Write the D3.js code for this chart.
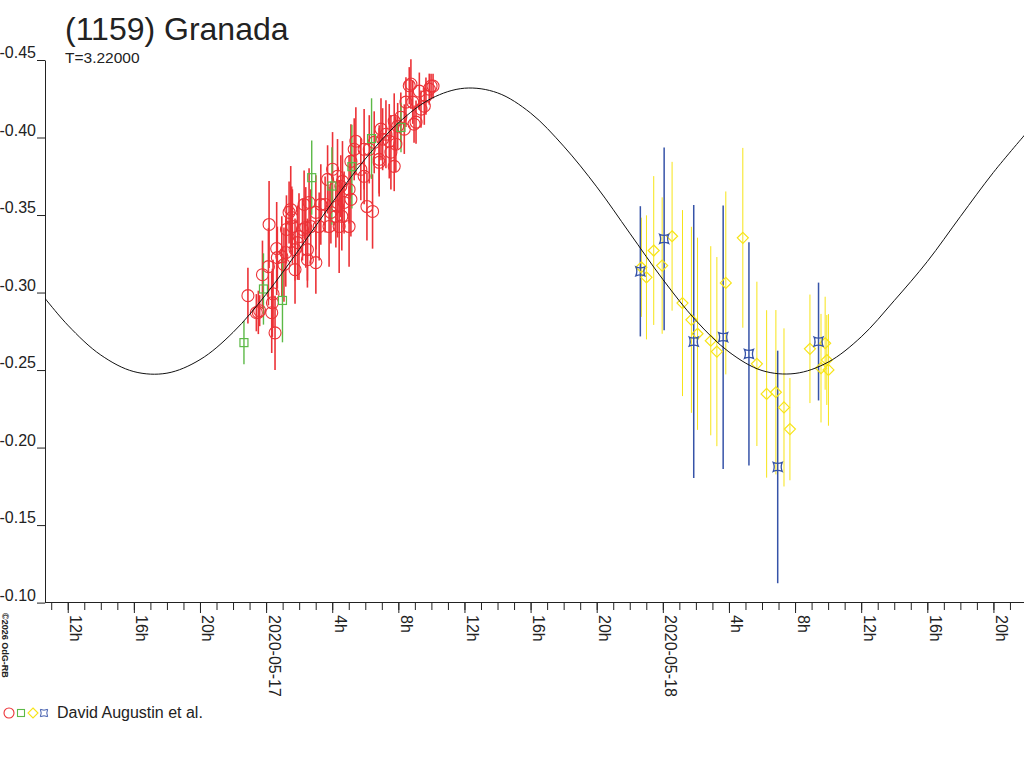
<!DOCTYPE html>
<html><head><meta charset="utf-8">
<script src="https://cdn.jsdelivr.net/npm/d3@7"></script>
<style>
body{margin:0;background:#fff}
text{font-family:"Liberation Sans",Arial,sans-serif;fill:#222}
</style>
</head><body><script>
var w=1024,h=768;

// all times: hours from 2020-05-17 00:00 UT
var redHours=[-1.10,-0.59,-0.47,-0.39,-0.22,0.14,0.18,0.34,0.38,0.54,
  0.64,0.68,0.42,0.95,1.23,1.39,1.49,1.59,1.55,1.08,
  1.19,1.75,1.75,1.90,1.99,2.20,2.30,2.50,2.50,2.40,
  2.70,2.60,3.01,3.01,3.21,3.31,3.57,3.72,3.81,3.92,
  4.02,4.32,4.42,4.58,4.72,4.62,8.76,8.66,9.27,9.98,
  9.87,9.67,8.46,8.87,9.57,9.07,8.36,7.75,7.96,6.95,
  7.25,7.45,7.05,7.85,7.55,6.84,7.75,6.54,6.24,5.93,
  5.43,5.33,5.13,5.73,5.93,6.84,4.52,5.02,5.13,4.32,
  5.02,6.10,6.44,4.22,10.10,9.37,8.15,8.95];
var redMags=[-0.2980,-0.2870,-0.2872,-0.2883,-0.3115,-0.3167,-0.3439,-0.2870,-0.2934,-0.2740,
  -0.3284,-0.3225,-0.2992,-0.3232,-0.3407,-0.3517,-0.3536,-0.3426,-0.3484,-0.3180,
  -0.3258,-0.3277,-0.3148,-0.3322,-0.3361,-0.3407,-0.3568,-0.3277,-0.3212,-0.3420,
  -0.3426,-0.3581,-0.3193,-0.3517,-0.3426,-0.3568,-0.3568,-0.3730,-0.3426,-0.3517,
  -0.3795,-0.3750,-0.3426,-0.3491,-0.3581,-0.3717,-0.4345,-0.4334,-0.4299,-0.4332,
  -0.4312,-0.4267,-0.4228,-0.4228,-0.4202,-0.4099,-0.4054,-0.4105,-0.4073,-0.4054,
  -0.4021,-0.3976,-0.3989,-0.3957,-0.3905,-0.3859,-0.3814,-0.3969,-0.3924,-0.3924,
  -0.3976,-0.3924,-0.3846,-0.3795,-0.3750,-0.3840,-0.3685,-0.3665,-0.3601,-0.3555,
  -0.3426,-0.3555,-0.3523,-0.3491,-0.4332,-0.4183,-0.4131,-0.4086];
var redErrs=[0.018,0.012,0.014,0.010,0.022,0.025,0.028,0.026,0.022,0.024,
  0.030,0.020,0.022,0.026,0.022,0.020,0.028,0.024,0.020,0.024,
  0.022,0.020,0.022,0.024,0.028,0.020,0.022,0.020,0.018,0.026,
  0.024,0.022,0.020,0.024,0.022,0.026,0.018,0.022,0.026,0.020,
  0.024,0.024,0.030,0.022,0.020,0.026,0.016,0.012,0.012,0.008,
  0.010,0.012,0.016,0.014,0.012,0.014,0.016,0.018,0.015,0.020,
  0.022,0.024,0.020,0.018,0.024,0.022,0.016,0.020,0.022,0.026,
  0.022,0.020,0.024,0.020,0.018,0.022,0.020,0.022,0.024,0.020,
  0.026,0.022,0.024,0.020,0.008,0.012,0.016,0.012];

var greenHours=[-1.34,-0.16,0.99,2.76,3.98,5.19,6.38,8.16];
var greenMags=[-0.2677,-0.3023,-0.2949,-0.3741,-0.3687,-0.3812,-0.3993,-0.4065];
var greenErrs=[0.014,0.023,0.027,0.024,0.025,0.027,0.026,0.016];

var yellowHours=[22.70,23.01,23.45,23.96,24.56,25.19,25.73,26.10,26.90,27.27,
  27.81,28.84,29.69,30.28,30.84,31.33,31.69,32.90,33.82,33.92,33.57,34.02];
var yellowMags=[-0.3163,-0.3098,-0.3271,-0.3174,-0.3363,-0.2932,-0.2824,-0.2734,-0.2689,-0.2619,
  -0.3062,-0.3353,-0.2540,-0.2346,-0.2357,-0.2259,-0.2119,-0.2637,-0.2673,-0.2565,-0.2512,-0.2501];
var yellowErrs=[0.032,0.040,0.048,0.044,0.048,0.060,0.060,0.062,0.061,0.061,
  0.059,0.058,0.053,0.054,0.053,0.051,0.033,0.035,0.030,0.029,0.035,0.036];

var blueHours=[22.64,24.08,25.87,27.65,29.21,30.95,33.42];
var blueMags=[-0.3137,-0.3346,-0.2684,-0.2712,-0.2604,-0.1875,-0.2684];
var blueErrs=[0.042,0.059,0.088,0.085,0.072,0.075,0.038];

// fitted lightcurve
var fitHours=[-14,-12,-10,-8,-6,-4,-2,0,2,4,6,8,10,12,14,16,18,20,22,24,26,28,30,32,34,36,38,40,42,44,46];
var fitMags=[-0.3046,-0.2790,-0.2597,-0.2490,-0.2480,-0.2567,-0.2743,-0.2989,-0.3278,-0.3580,
  -0.3862,-0.4094,-0.4252,-0.4318,-0.4288,-0.4158,-0.3944,-0.3682,-0.3383,-0.3085,
  -0.2820,-0.2617,-0.2497,-0.2478,-0.2551,-0.2714,-0.2948,-0.3200,-0.3490,-0.3775,-0.4030];

var magTicks=[-0.45,-0.40,-0.35,-0.30,-0.25,-0.20,-0.15,-0.10];
var title="(1159) Granada", subtitle="T=3.22000", observers="David Augustin et al.";

var t0=Date.UTC(2020,4,17);
function toDate(hr){return new Date(t0+hr*3600000);}

var svg=d3.select('body').append('svg').attr('width',w).attr('height',h);
var x=d3.scaleUtc().domain([toDate(-13.376),toDate(45.85)]).range([45,1024]);
var y=d3.scaleLinear().domain([-0.45,-0.10]).range([60,602.6]);

svg.append('defs').append('clipPath').attr('id','plot')
  .append('rect').attr('x',45).attr('y',0).attr('width',979).attr('height',603);

// title
svg.append('text').attr('x',65).attr('y',40).style('font-size','32px').text(title);
svg.append('text').attr('x',65).attr('y',63).style('font-size','15.5px').text(subtitle);

// y axis
var yAxis=svg.append('g').attr('transform','translate(45,0)')
  .call(d3.axisLeft(y).tickValues(magTicks).tickSize(8).tickSizeOuter(0)
    .tickFormat(function(d){return d.toFixed(2);}));
yAxis.select('.domain').attr('stroke','#222');
yAxis.selectAll('.tick line').attr('stroke','#222');
yAxis.selectAll('.tick text').attr('x',-9).attr('dy','-0.15em')
  .style('font-size','16px').style('font-family','"Liberation Sans",Arial,sans-serif').attr('fill','#222');

// x axis: hourly minor ticks, 4-hourly labelled ticks
var xMinor=svg.append('g').attr('transform','translate(0,602)')
  .call(d3.axisBottom(x).ticks(d3.utcHour.every(1)).tickSize(8).tickSizeOuter(0).tickFormat(''));
xMinor.select('.domain').attr('stroke','#222');
xMinor.selectAll('.tick line').attr('stroke','#222');

var xMajor=svg.append('g').attr('transform','translate(0,602)')
  .call(d3.axisBottom(x).ticks(d3.utcHour.every(4)).tickSize(11).tickSizeOuter(0)
    .tickFormat(function(d){
      return d.getUTCHours()===0 ? d3.utcFormat('%Y-%m-%d')(d) : d.getUTCHours()+'h';
    }));
xMajor.select('.domain').remove();
xMajor.selectAll('.tick line').attr('stroke','#222');
xMajor.selectAll('.tick text')
  .attr('y',0).attr('dy',0)
  .attr('transform','translate(2,13) rotate(90)')
  .attr('text-anchor','start')
  .style('font-size','16px').style('font-family','"Liberation Sans",Arial,sans-serif').attr('fill','#222');

// data
var plot=svg.append('g').attr('clip-path','url(#plot)');

function series(hours,mags,errs){
  return hours.map(function(d,i){return {t:toDate(d),m:mags[i],e:errs[i]};});
}
function bars(data,color,width){
  plot.append('g').selectAll('line').data(data).enter().append('line')
    .attr('x1',function(d){return x(d.t);}).attr('x2',function(d){return x(d.t);})
    .attr('y1',function(d){return y(d.m-d.e);}).attr('y2',function(d){return y(d.m+d.e);})
    .attr('stroke',color).attr('stroke-width',width);
}

var red=series(redHours,redMags,redErrs),
    green=series(greenHours,greenMags,greenErrs),
    yellow=series(yellowHours,yellowMags,yellowErrs),
    blue=series(blueHours,blueMags,blueErrs);

var cRed='#ec3237',cGreen='#5cb947',cYellow='#f7e417',cBlue='#3653a8';
var starPath='M-4.5,-4.5 Q0,-2.5 4.5,-4.5 Q2.5,0 4.5,4.5 Q0,2.5 -4.5,4.5 Q-2.5,0 -4.5,-4.5 Z';

bars(yellow,cYellow,1);
bars(blue,cBlue,1.5);
bars(red,cRed,1.6);
bars(green,cGreen,1.4);

plot.append('g').selectAll('path').data(yellow).enter().append('path')
  .attr('d','M0,-5.5 L5.5,0 L0,5.5 L-5.5,0 Z')
  .attr('transform',function(d){return 'translate('+x(d.t)+','+y(d.m)+')';})
  .attr('fill','none').attr('stroke',cYellow).attr('stroke-width',1.2);
plot.append('g').selectAll('path').data(blue).enter().append('path')
  .attr('d',starPath)
  .attr('transform',function(d){return 'translate('+x(d.t)+','+y(d.m)+')';})
  .attr('fill','none').attr('stroke',cBlue).attr('stroke-width',1.3);
plot.append('g').selectAll('circle').data(red).enter().append('circle')
  .attr('cx',function(d){return x(d.t);}).attr('cy',function(d){return y(d.m);})
  .attr('r',6).attr('fill','none').attr('stroke',cRed).attr('stroke-width',1.1);
plot.append('g').selectAll('rect').data(green).enter().append('rect')
  .attr('x',function(d){return x(d.t)-4;}).attr('y',function(d){return y(d.m)-4;})
  .attr('width',8).attr('height',8).attr('fill','none').attr('stroke',cGreen).attr('stroke-width',1.2);

// fit curve
var fit=fitHours.map(function(d,i){return {t:toDate(d),m:fitMags[i]};});
plot.append('path').datum(fit)
  .attr('d',d3.line().x(function(d){return x(d.t);}).y(function(d){return y(d.m);}).curve(d3.curveCatmullRom))
  .attr('fill','none').attr('stroke','#111').attr('stroke-width',1);

// copyright
svg.append('text').attr('transform','translate(2,613) rotate(90)')
  .style('font-size','9px').style('font-weight','bold').text('\u00a92026 OdG-RB');

// legend
var lg=svg.append('g').attr('transform','translate(0,713)');
lg.append('circle').attr('cx',9).attr('cy',0).attr('r',5).attr('fill','none').attr('stroke',cRed).attr('stroke-width',1.1);
lg.append('rect').attr('x',17.5).attr('y',-3.5).attr('width',7).attr('height',7).attr('fill','none').attr('stroke',cGreen).attr('stroke-width',1.1);
lg.append('path').attr('d','M33,-5 L38,0 L33,5 L28,0 Z').attr('fill','none').attr('stroke',cYellow).attr('stroke-width',1.1);
lg.append('path').attr('d',starPath).attr('transform','translate(44,0) scale(0.8)').attr('fill','none').attr('stroke',cBlue).attr('stroke-width',1.2);
lg.append('text').attr('x',57).attr('y',5).style('font-size','16px').text(observers);
</script></body></html>
